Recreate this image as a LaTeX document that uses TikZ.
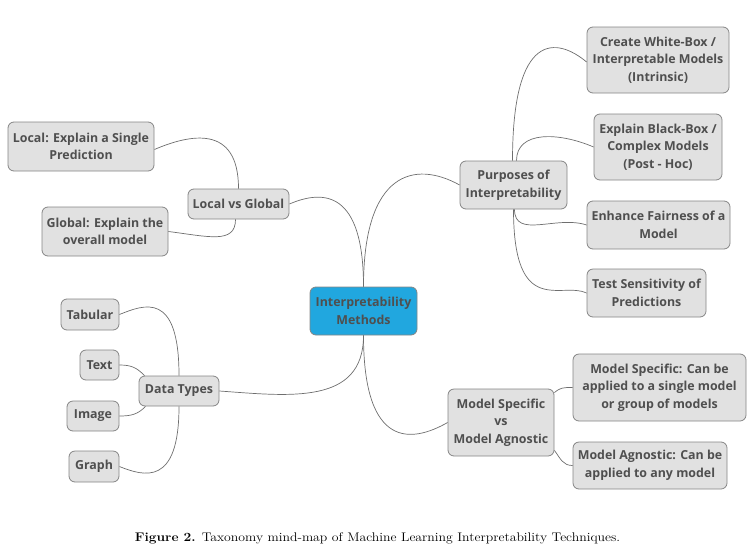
\documentclass[tikz,border=0pt]{standalone}
\usepackage{fontspec}
\newfontfamily\nodefont{Open Sans}
\definecolor{boxfill}{HTML}{E1E1E1}
\definecolor{boxline}{HTML}{858585}
\definecolor{txt}{HTML}{4F4F4F}
\definecolor{centerfill}{HTML}{21A7DF}
\definecolor{wire}{HTML}{6E6E6E}
\tikzset{
  topic/.style={draw=boxline, fill=boxfill, rounded corners=6pt, line width=0.8pt,
    text=txt, font=\nodefont\bfseries\fontsize{12.4}{17.5}\selectfont, align=center,
    inner sep=0pt},
  centertopic/.style={topic, fill=centerfill},
  wirestyle/.style={draw=wire, line width=0.7pt}
}
\begin{document}
\begin{tikzpicture}[x=1pt,y=-1pt]
\useasboundingbox (0,0) rectangle (751,554);
% center
\node[centertopic, minimum width=107pt, minimum height=48pt] (c) at (363.5,311) {Interpretability\\Methods};
% left upper
\node[topic, minimum width=101pt, minimum height=30pt] (lg) at (238.5,204) {Local vs Global};
\node[topic, minimum width=146pt, minimum height=49pt] (loc) at (81,146.5) {Local: Explain a Single\\Prediction};
\node[topic, minimum width=126pt, minimum height=49pt] (glo) at (105,231.5) {Global: Explain the\\overall model};
% purposes
\node[topic, minimum width=107pt, minimum height=48pt] (p) at (513.5,185) {Purposes of\\Interpretability};
\node[topic, minimum width=142pt, minimum height=66pt] (wb) at (658,60) {Create White-Box /\\Interpretable Models\\(Intrinsic)};
\node[topic, minimum width=128pt, minimum height=66pt] (bb) at (658,147) {Explain Black-Box /\\Complex Models\\(Post - Hoc)};
\node[topic, minimum width=143pt, minimum height=48pt] (fair) at (658.5,225) {Enhance Fairness of a\\Model};
\node[topic, minimum width=119pt, minimum height=48pt] (sens) at (646.5,293) {Test Sensitivity of\\Predictions};
% data types
\node[topic, minimum width=80pt, minimum height=30pt] (dt) at (179,391) {Data Types};
\node[topic, minimum width=58pt, minimum height=31pt] (tab) at (90,314.5) {Tabular};
\node[topic, minimum width=39pt, minimum height=30pt] (txtn) at (99.5,365) {Text};
\node[topic, minimum width=52pt, minimum height=30pt] (img) at (93,416) {Image};
\node[topic, minimum width=50pt, minimum height=31pt] (gr) at (94,466.5) {Graph};
% model specific vs agnostic
\node[topic, minimum width=106pt, minimum height=67pt] (ms) at (501,422.5) {Model Specific\\vs\\Model Agnostic};
\node[topic, minimum width=173pt, minimum height=67pt] (msd) at (659.5,387.5) {Model Specific: Can be\\applied to a single model\\or group of models};
\node[topic, minimum width=154pt, minimum height=47pt] (mad) at (650,465.5) {Model Agnostic: Can be\\applied to any model};
% caption
\node[font=\fontsize{12.5}{15}\selectfont, anchor=base, inner sep=0pt] (cap) at (377.5,541) {\scalebox{1.1}[1]{\textbf{Figure 2.} Taxonomy mind-map of Machine Learning Interpretability Techniques.}};
% connectors
\draw[wirestyle] (c.north) .. controls +(0,-115) and +(-45,-25) .. (p.west);
\draw[wirestyle] (c.north) .. controls +(0,-95) and +(35,-15) .. (lg.east);
\draw[wirestyle] (c.south) .. controls +(0,70) and +(70,5) .. (dt.east);
\draw[wirestyle] (c.south) .. controls +(0,115) and +(-35,20) .. (ms.west);
% purposes children
\draw[wirestyle] ([xshift=-1pt]p.north) .. controls +(0,-130) and +(-30,-25) .. ([yshift=-2pt]wb.west);
\draw[wirestyle] ([xshift=3pt]p.north) .. controls +(0,-30) and +(-35,-15) .. (bb.west);
\draw[wirestyle] ([xshift=1pt]p.south) .. controls +(0,30) and +(-30,-10) .. (fair.west);
\draw[wirestyle] ([xshift=0pt]p.south) .. controls +(0,110) and +(-25,-12) .. (sens.west);
% local vs global children
\draw[wirestyle] (lg.north) .. controls +(0,-65) and +(35,-15) .. ([yshift=-3pt]loc.east);
\draw[wirestyle] ([xshift=-3pt]lg.south) .. controls +(0,25) and +(40,5) .. (glo.east);
% data types children
\draw[wirestyle] (dt.north) .. controls +(0,-85) and +(25,-10) .. (tab.east);
\draw[wirestyle] ([xshift=6pt]dt.north west) .. controls +(-8,-8) and +(12,0) .. (txtn.east);
\draw[wirestyle] ([xshift=7pt]dt.south west) .. controls +(-8,8) and +(12,0) .. (img.east);
\draw[wirestyle] (dt.south) .. controls +(0,80) and +(25,10) .. (gr.east);
% model specific children
\draw[wirestyle] ([yshift=-4pt]ms.north east) .. controls +(6,-5) and +(-10,0) .. (msd.west);
\draw[wirestyle] ([yshift=6pt]ms.south east) .. controls +(6,8) and +(-10,0) .. (mad.west);
\end{tikzpicture}
\end{document}
